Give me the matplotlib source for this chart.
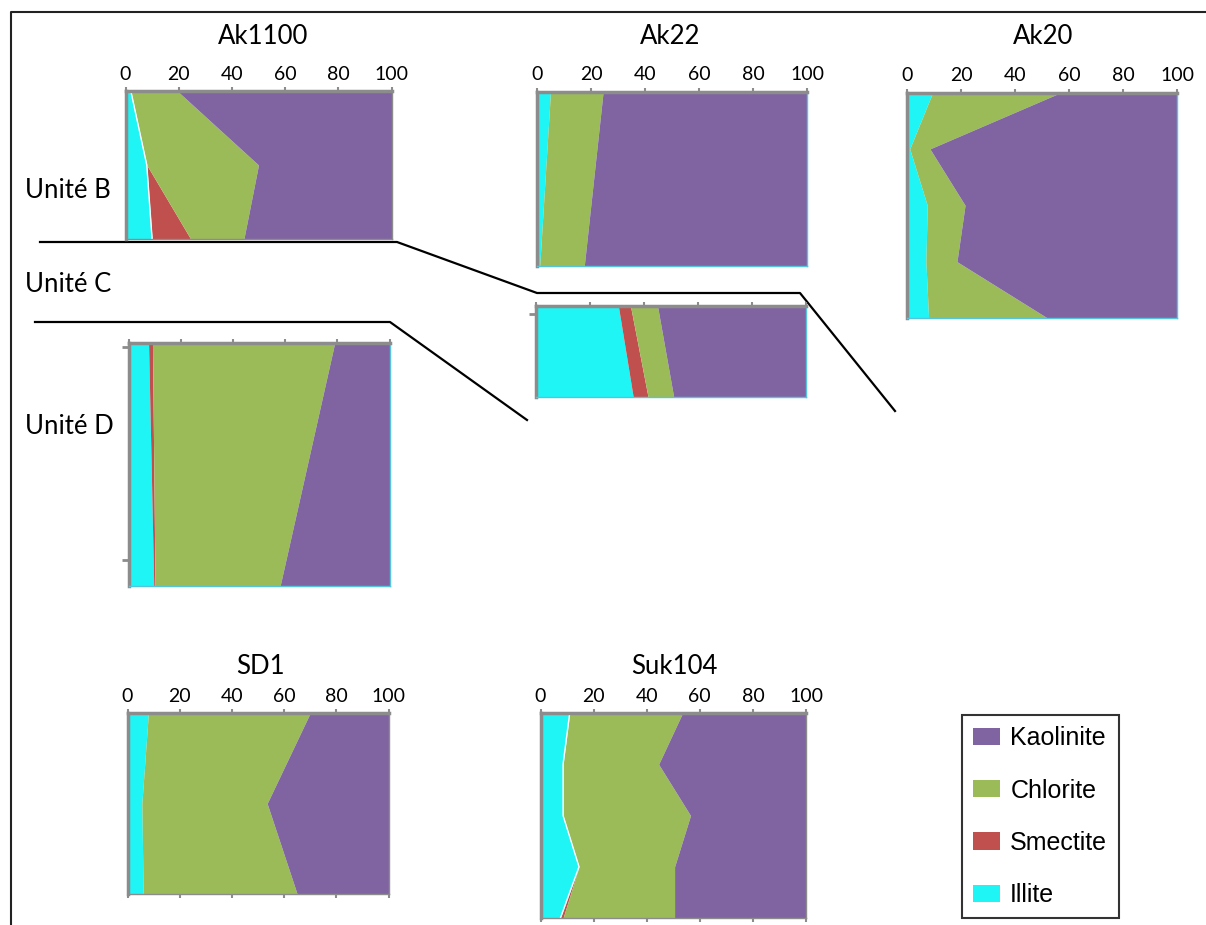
import numpy as np
import matplotlib
matplotlib.use("Agg")
import matplotlib.pyplot as plt
from matplotlib.patches import Patch

W, H = 1206, 925
plt.rcParams['font.family'] = ['Lato', 'DejaVu Sans']

# Clay fractions (%) per level, top to bottom
minerals = ['Illite', 'Smectite', 'Chlorite', 'Kaolinite']
colors = {'Illite': '#1ff5f5', 'Smectite': '#c0504d',
          'Chlorite': '#9bbb59', 'Kaolinite': '#8064a2'}

ak1100_b_illite = [2, 8, 10]
ak1100_b_smectite = [0, 0, 14.5]
ak1100_b_chlorite = [17.5, 42, 20]
ak1100_b_kaolinite = [80.5, 50, 55.5]

ak22_b_illite = [5, 1]
ak22_b_smectite = [0, 0]
ak22_b_chlorite = [19.5, 16.5]
ak22_b_kaolinite = [75.5, 82.5]

ak22_c_illite = [30.5, 36]
ak22_c_smectite = [4.5, 5.5]
ak22_c_chlorite = [10, 9.5]
ak22_c_kaolinite = [55, 49]

ak20_illite = [9.5, 1, 7.5, 7, 8]
ak20_smectite = [0, 0, 0, 0, 0]
ak20_chlorite = [47.5, 7.5, 14, 11.5, 44]
ak20_kaolinite = [43, 91.5, 78.5, 81.5, 48]

ak1100_d_illite = [7.5, 9.5]
ak1100_d_smectite = [1.5, 0.5]
ak1100_d_chlorite = [70, 48]
ak1100_d_kaolinite = [21, 42]

sd1_illite = [8, 5.5, 6]
sd1_smectite = [0, 0, 0]
sd1_chlorite = [62, 48, 59]
sd1_kaolinite = [30, 46.5, 35]

suk104_illite = [11, 8.5, 8.5, 14.5, 7.5]
suk104_smectite = [0, 0, 0, 0, 1]
suk104_chlorite = [42.5, 36, 48, 36, 42]
suk104_kaolinite = [46.5, 55.5, 43.5, 49.5, 49.5]

xticks = [0, 20, 40, 60, 80, 100]

fig = plt.figure(figsize=(W / 100, H / 100), dpi=100)

# background axes in pixel units for frame, unit boundaries and labels
bg = fig.add_axes([0, 0, 1, 1])
bg.set_xlim(0, W)
bg.set_ylim(H, 0)
bg.axis('off')


def panel(box, data, labels=True, ytick_frac=(), edge='#56c5dc', white_edge=False):
    x0, y0, x1, y1 = box
    ax = fig.add_axes([x0 / W, 1 - y1 / H, (x1 - x0) / W, (y1 - y0) / H])
    depth = np.arange(len(data[0]))
    left = np.zeros(len(depth))
    for name, vals in zip(minerals, data):
        right = left + np.array(vals, dtype=float)
        ax.fill_betweenx(depth, left, right, color=colors[name], lw=0)
        left = right
    if white_edge:
        ax.plot(data[0], depth, color='white', lw=1)
    ax.set_xlim(0, 100)
    ax.set_ylim(depth[-1], 0)
    ax.xaxis.tick_top()
    ax.set_xticks(xticks)
    if labels:
        ax.set_xticklabels([str(t) for t in xticks], fontsize=14)
    else:
        ax.set_xticklabels([])
    ax.tick_params(axis='x', length=3, width=1.5, color='#8c8c8c', pad=3)
    ax.set_yticks([f * depth[-1] for f in ytick_frac])
    ax.set_yticklabels([])
    ax.tick_params(axis='y', length=5, width=2, color='#8c8c8c')
    for s in ['left', 'top']:
        ax.spines[s].set_color('#8c8c8c')
        ax.spines[s].set_linewidth(2.5)
    for s in ['right', 'bottom']:
        ax.spines[s].set_color(edge)
        ax.spines[s].set_linewidth(1)
    return ax


panel((125.5, 91, 391.5, 239),
      [ak1100_b_illite, ak1100_b_smectite, ak1100_b_chlorite, ak1100_b_kaolinite],
      edge='#8c8c8c', white_edge=True)
panel((537, 91.5, 807, 266),
      [ak22_b_illite, ak22_b_smectite, ak22_b_chlorite, ak22_b_kaolinite])
panel((536, 306, 806, 397),
      [ak22_c_illite, ak22_c_smectite, ak22_c_chlorite, ak22_c_kaolinite],
      labels=False, ytick_frac=(0.09,))
panel((907, 92.5, 1177, 318),
      [ak20_illite, ak20_smectite, ak20_chlorite, ak20_kaolinite])
panel((129, 342.5, 389.5, 586),
      [ak1100_d_illite, ak1100_d_smectite, ak1100_d_chlorite, ak1100_d_kaolinite],
      labels=False, ytick_frac=(0.02, 0.895))
sd1 = panel((127.5, 713, 388.5, 894),
            [sd1_illite, sd1_smectite, sd1_chlorite, sd1_kaolinite], edge='#8c8c8c')
sd1.tick_params(axis='x', bottom=True)
suk = panel((540.5, 713, 806, 918),
            [suk104_illite, suk104_smectite, suk104_chlorite, suk104_kaolinite],
            edge='#8c8c8c', white_edge=True)
suk.tick_params(axis='x', bottom=True)

# core names
for name, x, y in [('Ak1100', 263, 37), ('Ak22', 670, 37), ('Ak20', 1043, 37),
                   ('SD1', 260, 667), ('Suk104', 674, 667)]:
    bg.text(x, y, name, fontsize=18.5, ha='center', va='center')

# unit labels and boundaries
for name, y in [('Unité B', 190), ('Unité C', 284), ('Unité D', 427)]:
    bg.text(25, y, name, fontsize=18.5, ha='left', va='center')

bg.plot([40, 397, 537, 800, 895], [242, 242, 293, 293, 411], color='black', lw=1.6)
bg.plot([35, 390, 527], [322, 322, 420], color='black', lw=1.6)

# outer frame
bg.plot([11, 11, W], [H, 12, 12], color='#222222', lw=1.5)

handles = [Patch(facecolor=colors[m], edgecolor='none', label=m) for m in minerals[::-1]]
leg = fig.legend(handles=handles, loc='upper left', bbox_to_anchor=(962 / W, 1 - 715 / H),
                 frameon=True, fancybox=False, edgecolor='black',
                 prop={'family': 'Liberation Sans', 'size': 18},
                 handlelength=1.08, handleheight=0.68, labelspacing=1.13,
                 borderpad=0.45, handletextpad=0.4, borderaxespad=0)
leg.get_frame().set_linewidth(1.5)

fig.savefig('out.png', dpi=100)
